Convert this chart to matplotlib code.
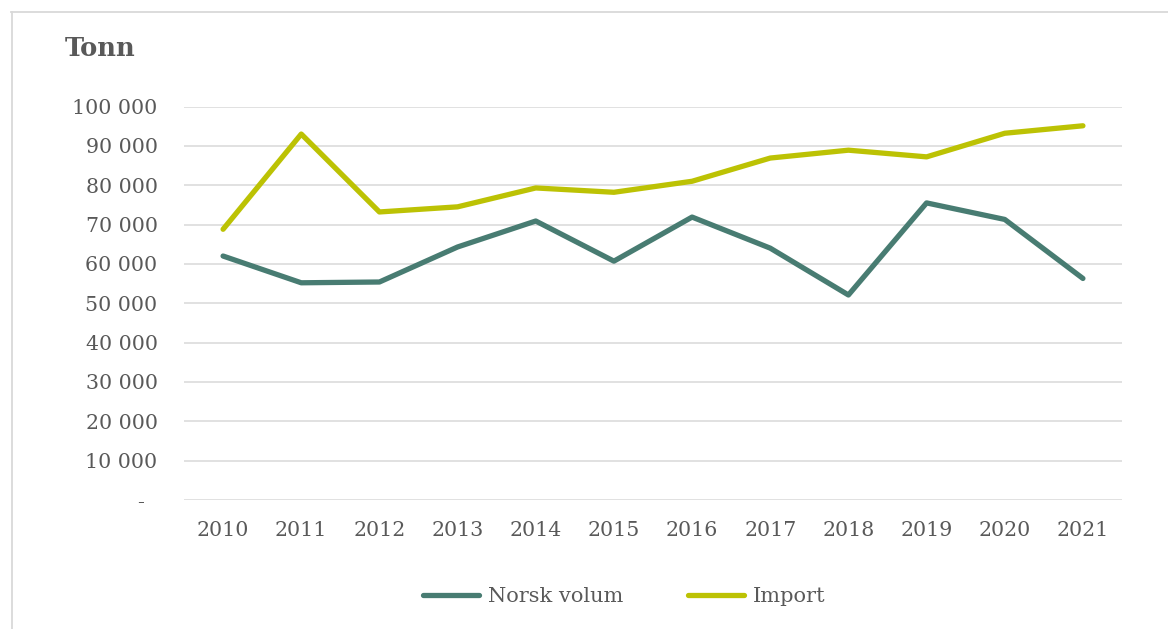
import matplotlib.pyplot as plt
from matplotlib.ticker import FuncFormatter
from matplotlib.lines import Line2D

# Tonnasje per år
years = ['2010', '2011', '2012', '2013', '2014', '2015',
         '2016', '2017', '2018', '2019', '2020', '2021']
norsk = [62000, 55200, 55400, 64300, 70900, 60700,
         71900, 64000, 52100, 75500, 71300, 56300]
imp = [68800, 93000, 73200, 74500, 79300, 78200,
       81000, 86900, 88900, 87200, 93200, 95100]

grey = '#595959'
teal = '#487c72'
lime = '#bcc204'

plt.rcParams['font.family'] = ['DejaVu Serif']

fig = plt.figure(figsize=(11.68, 6.29), dpi=100)
ax = fig.add_axes([184 / 1168, 1 - 500 / 629, 938 / 1168, 393.5 / 629])

x = range(len(years))
ax.plot(x, norsk, color=teal, lw=3.8, solid_capstyle='round',
        solid_joinstyle='round', label='Norsk volum', zorder=3)
ax.plot(x, imp, color=lime, lw=3.8, solid_capstyle='round',
        solid_joinstyle='round', label='Import', zorder=3)

ax.set_xlim(-0.5, len(years) - 0.5)
ax.set_ylim(0, 100000)
ax.set_yticks(range(0, 100001, 10000))
ax.yaxis.set_major_formatter(FuncFormatter(
    lambda v, p: '-  ' if v == 0 else f'{int(v):,}'.replace(',', ' ')))
ax.set_xticks(list(x))
ax.set_xticklabels(years)

ax.grid(axis='y', color='#d9d9d9', lw=1.1)
ax.set_axisbelow(True)
for s in ax.spines.values():
    s.set_visible(False)
ax.tick_params(axis='y', length=0, pad=19, labelsize=14.8, labelcolor=grey)
ax.tick_params(axis='x', length=0, pad=15, labelsize=14.8, labelcolor=grey)

fig.text(65 / 1168, 1 - 48 / 629, 'Tonn', fontsize=18.5, fontweight='bold',
         color=grey, va='center', ha='left')

leg = fig.legend(loc='center', bbox_to_anchor=(624 / 1168, 1 - 597 / 629),
                 ncol=2, frameon=False, fontsize=15, handlelength=2.7,
                 handletextpad=0.43, columnspacing=3.1)
for t in leg.get_texts():
    t.set_color(grey)
for h in leg.get_lines():
    h.set_solid_capstyle('round')

# tynn ramme oppe og til venstre
fig.add_artist(Line2D([11 / 1168, 1], [1 - 11.5 / 629, 1 - 11.5 / 629],
                      transform=fig.transFigure, color='#d9d9d9', lw=1.3))
fig.add_artist(Line2D([11.5 / 1168, 11.5 / 1168], [0, 1 - 11.5 / 629],
                      transform=fig.transFigure, color='#d9d9d9', lw=1.3))

fig.savefig('out.png', dpi=100)
